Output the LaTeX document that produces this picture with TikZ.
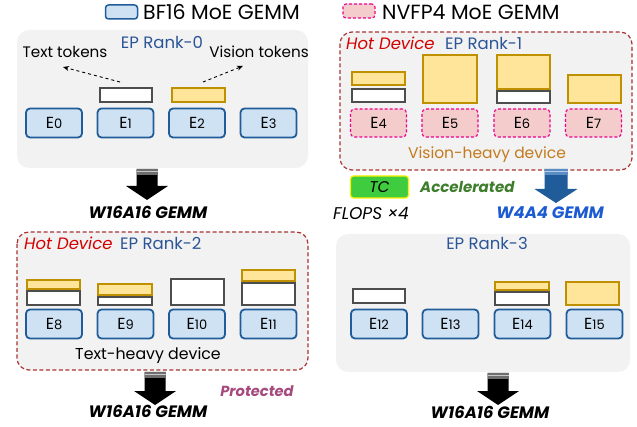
\documentclass[tikz,border=0pt]{standalone}
\usepackage{fontspec}
\setmainfont{Poppins}
\usetikzlibrary{arrows.meta}

\definecolor{panelgray}{HTML}{F2F2F2}
\definecolor{eblue}{HTML}{1F5C99}
\definecolor{ebluefill}{HTML}{CFE2F3}
\definecolor{pinkfill}{HTML}{F4CCCC}
\definecolor{hotred}{HTML}{A83232}
\definecolor{hottext}{HTML}{D40000}
\definecolor{rankblue}{HTML}{2B5597}
\definecolor{tokgray}{HTML}{4D4D4D}
\definecolor{gold}{HTML}{BF9000}
\definecolor{yellowfill}{HTML}{FFE599}
\definecolor{visionbrown}{HTML}{C47A1E}
\definecolor{tcgreen}{HTML}{3FCC3F}
\definecolor{accgreen}{HTML}{3E7D2B}
\definecolor{wblue}{HTML}{1C5BD1}
\definecolor{protpurple}{HTML}{A6497C}
\definecolor{bandgray}{HTML}{6E6E6E}
\definecolor{bandline}{HTML}{C8C8C8}
\definecolor{bandblue}{HTML}{5C8CC4}
\definecolor{bandblueline}{HTML}{B5CDEA}

\newcommand\fs[1]{\fontsize{#1}{#1}\selectfont}
\newcommand\ex[1]{E{\fs{13}#1}}
% block arrow: centre x, top y, bottom y, shaft half width, head half width, body, band, band line
\newcommand\blockarrow[8]{%
  \fill[#6] (#1-#4,#2) -- (#1+#4,#2) -- (#1+#4,#3-14) -- (#1+#5,#3-14) -- (#1,#3)
     -- (#1-#5,#3-14) -- (#1-#4,#3-14) -- cycle;
  \fill[#7] (#1-#4,#2) rectangle (#1+#4,#2+6);
  \draw[#8, line width=0.8pt] (#1-#4,#2+2.5) -- (#1+#4,#2+2.5);
}

\tikzset{
  panel/.style={fill=panelgray, rounded corners=12pt},
  hotpanel/.style={panel, draw=hotred, dashed, dash pattern=on 4pt off 2.5pt, line width=1.2pt},
  ebox/.style={draw=eblue, fill=ebluefill, line width=1.8pt, rounded corners=4pt,
    minimum width=56pt, minimum height=29pt, inner sep=0pt, font=\fs{16}},
  fpbox/.style={draw=magenta, fill=pinkfill, dashed, dash pattern=on 3pt off 2pt, line width=1.1pt,
    rounded corners=4pt, minimum width=56pt, minimum height=28pt, inner sep=0pt, font=\fs{16}},
  tokg/.style={draw=tokgray, fill=white, line width=2pt},
  toky/.style={draw=gold, fill=yellowfill, line width=2pt},
  ranklbl/.style={text=rankblue, font=\fs{16.5}, inner sep=0pt},
  hotlbl/.style={text=hottext, font=\fs{16.5}\itshape, inner sep=0pt},
  gemmlbl/.style={font=\fs{16.5}\bfseries\itshape, inner sep=0pt},
  plain/.style={font=\fs{15.2}, inner sep=0pt},
}

\begin{document}
\begin{tikzpicture}[x=1pt,y=-1pt]
\useasboundingbox (0,0) rectangle (637,427);

% legend
\node[draw=eblue, fill=ebluefill, line width=1.5pt, rounded corners=3pt,
  minimum width=32pt, minimum height=14pt, inner sep=0pt] (legbf) at (121.5,12) {};
\node[anchor=west, font=\fs{20.5}, inner sep=0pt] (legbft) at (143,12) {BF16 MoE GEMM};
\node[draw=magenta, fill=pinkfill, dashed, dash pattern=on 3pt off 2pt, line width=1.1pt, rounded corners=3pt,
  minimum width=32pt, minimum height=14pt, inner sep=0pt] (legfp) at (359,11) {};
\node[anchor=west, font=\fs{20.5}, inner sep=0pt] (legfpt) at (382,12) {NVFP4 MoE GEMM};

% ---------- EP Rank-0 ----------
\fill[panel] (17,30) rectangle (308,168);
\node[ranklbl] (r0) at (162,42) {EP Rank-0};
\node[plain] (txttok) at (65,52) {Text tokens};
\node[plain] (vistok) at (259,52) {Vision tokens};
\node[ebox] (e0) at (54,123) {\ex{0}};
\node[ebox] (e1) at (125.5,123) {\ex{1}};
\node[ebox] (e2) at (197,123) {\ex{2}};
\node[ebox] (e3) at (268.5,123) {\ex{3}};
\draw[tokg] (100,88) rectangle (152,102);
\draw[toky] (172,88) rectangle (225,102);
\coordinate (t1) at (120,82);
\coordinate (t2) at (63,67);
\coordinate (v1) at (203,82);
\coordinate (v2) at (243,66);
\draw[dashed, line width=0.9pt, -{Stealth[length=6pt,width=5pt]}] (t1) -- (t2);
\draw[dashed, line width=0.9pt, -{Stealth[length=6pt,width=5pt]}] (v1) -- (v2);
\blockarrow{147}{169}{200}{10.5}{21}{black}{bandgray}{bandline}
\node[gemmlbl] (g0) at (148,212) {W16A16 GEMM};

% ---------- EP Rank-1 ----------
\filldraw[hotpanel] (340,32) rectangle (632,170);
\node[hotlbl, anchor=west] (hot1) at (346,43) {Hot Device};
\node[ranklbl, anchor=west] (r1) at (445,43) {EP Rank-1};
\draw[toky] (352,72) rectangle (405,85);
\draw[tokg] (352,89) rectangle (405,102);
\draw[toky] (423,55) rectangle (477,103);
\draw[toky] (497,55) rectangle (550,89);
\draw[tokg] (497,91) rectangle (550,103);
\draw[toky] (568,75) rectangle (621,103);
\node[fpbox] (e4) at (378.5,123) {\ex{4}};
\node[fpbox] (e5) at (450,123) {\ex{5}};
\node[fpbox] (e6) at (522,123) {\ex{6}};
\node[fpbox] (e7) at (593.5,123) {\ex{7}};
\node[font=\fs{15.5}, text=visionbrown, inner sep=0pt] (vh) at (487,155) {Vision-heavy device};

\node[draw=yellow, fill=tcgreen, line width=1.2pt, rounded corners=3pt,
  minimum width=58pt, minimum height=22pt, inner sep=0pt, font=\fs{15.5}\itshape] (tc) at (379.5,187) {TC};
\node[anchor=west, font=\fs{15}\bfseries\itshape, text=accgreen, inner sep=0pt] (acc) at (420,187) {Accelerated};
\node[anchor=west, font=\fs{17}\itshape, inner sep=0pt] (flops) at (333,213) {FLOPS \texttimes4};
\blockarrow{556}{169}{203}{11.5}{21.5}{eblue}{bandblue}{bandblueline}
\node[gemmlbl, text=wblue] (g1) at (550,213) {W4A4 GEMM};

% ---------- EP Rank-2 ----------
\filldraw[hotpanel] (17,232) rectangle (308,370);
\node[hotlbl, anchor=west] (hot2) at (24,243) {Hot Device};
\node[ranklbl, anchor=west] (r2) at (120,243) {EP Rank-2};
\draw[toky] (27,280) rectangle (80,289);
\draw[tokg] (27,291) rectangle (80,305);
\draw[toky] (98,284) rectangle (152,295);
\draw[tokg] (98,297) rectangle (152,305);
\draw[tokg] (171,279) rectangle (224,305);
\draw[toky] (242,270) rectangle (295,281);
\draw[tokg] (242,283) rectangle (295,305);
\node[ebox] (e8) at (54,324) {\ex{8}};
\node[ebox] (e9) at (125.5,324) {\ex{9}};
\node[ebox] (e10) at (197,324) {\ex{10}};
\node[ebox] (e11) at (268.5,324) {\ex{11}};
\node[font=\fs{15.8}, inner sep=0pt] (th) at (148,356) {Text-heavy device};
\blockarrow{155}{372}{405}{10.5}{21}{black}{bandgray}{bandline}
\node[font=\fs{14.6}\bfseries\itshape, text=protpurple, inner sep=0pt] (prot) at (257,391) {Protected};
\node[gemmlbl] (g2) at (148,411) {W16A16 GEMM};

% ---------- EP Rank-3 ----------
\fill[panel] (336,234) rectangle (630,372);
\node[ranklbl] (r3) at (487,243) {EP Rank-3};
\draw[tokg] (353,289) rectangle (405,303);
\draw[toky] (495,282) rectangle (549,290);
\draw[tokg] (495,292) rectangle (549,305);
\draw[toky] (566,282) rectangle (619,305);
\node[ebox] (e12) at (379,324) {\ex{12}};
\node[ebox] (e13) at (450.5,324) {\ex{13}};
\node[ebox] (e14) at (522.5,324) {\ex{14}};
\node[ebox] (e15) at (594.5,324) {\ex{15}};
\blockarrow{498}{373}{405}{10.5}{21}{black}{bandgray}{bandline}
\node[gemmlbl] (g3) at (490,412) {W16A16 GEMM};
\end{tikzpicture}
\end{document}
